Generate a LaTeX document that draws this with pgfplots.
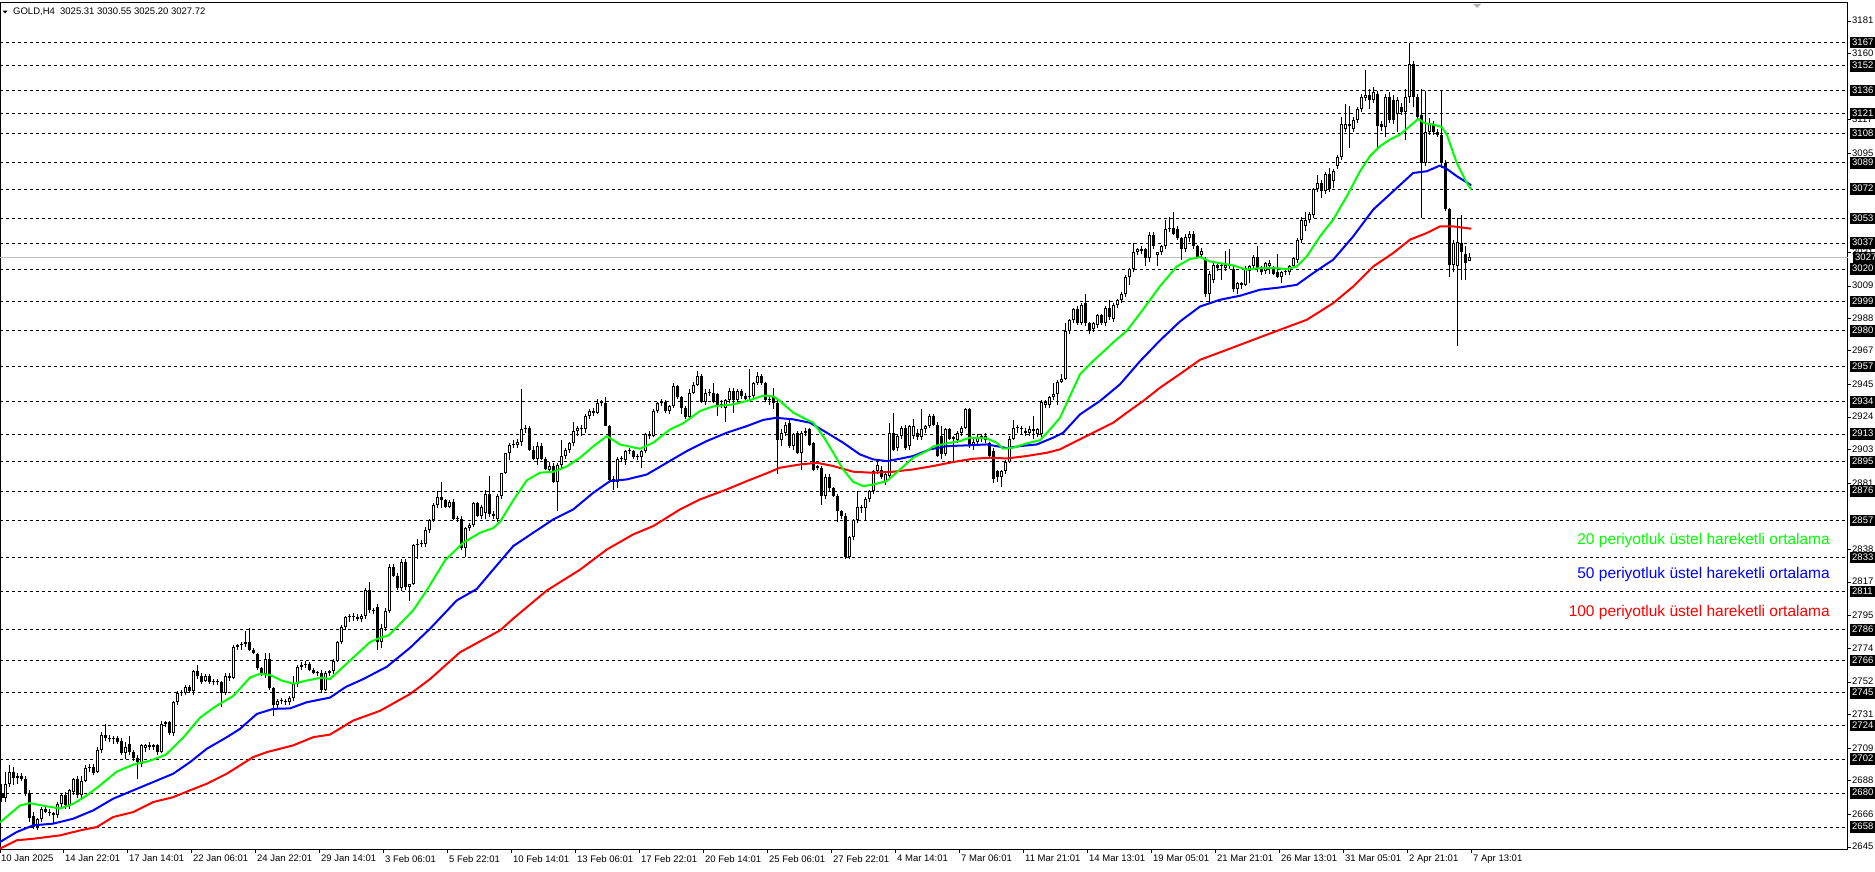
\documentclass[border=0pt]{standalone}
\usepackage{pgfplots}
\pgfplotsset{compat=1.18}
\usepackage{pgfplotstable}
\usepackage{fontspec}
\setmainfont{Liberation Sans}
\definecolor{emagreen}{RGB}{0,255,0}
\definecolor{emablue}{RGB}{0,0,255}
\definecolor{emared}{RGB}{255,0,0}
\definecolor{pricegray}{RGB}{192,192,192}

\pgfplotstableread{
i o h l c
0 2680 2686 2674 2677
1 2677 2694 2674 2686
2 2686 2698 2684 2694
3 2694 2697 2685 2690
4 2690 2693 2686 2691
5 2691 2693 2688 2689
6 2689 2691 2678 2680
7 2680 2682 2661 2664
8 2665 2668 2657 2658
9 2658 2664 2656 2663
10 2663 2671 2661 2670
11 2670 2672 2667 2668
12 2668 2670 2665 2667
13 2667 2668 2660 2666
14 2666 2674 2664 2673
15 2673 2680 2670 2679
16 2679 2681 2670 2672
17 2672 2683 2670 2682
18 2681 2690 2679 2689
19 2689 2691 2677 2679
20 2679 2691 2677 2688
21 2688 2698 2687 2696
22 2696 2699 2694 2697
23 2697 2699 2692 2693
24 2694 2710 2693 2708
25 2708 2720 2706 2718
26 2718 2725 2714 2716
27 2716 2718 2713 2715
28 2715 2717 2712 2716
29 2716 2717 2712 2713
30 2714 2716 2705 2706
31 2706 2713 2702 2710
32 2712 2717 2705 2707
33 2707 2708 2701 2703
34 2703 2705 2689 2700
35 2699 2712 2697 2711
36 2709 2712 2707 2711
37 2711 2713 2708 2710
38 2710 2712 2708 2711
39 2711 2712 2705 2707
40 2707 2727 2706 2725
41 2725 2727 2723 2726
42 2726 2727 2718 2719
43 2719 2740 2717 2739
44 2739 2746 2737 2745
45 2745 2747 2743 2745.5
46 2745 2750 2744 2749
47 2749 2750 2745 2746
48 2746 2760 2744 2759
49 2759 2763 2754 2756
50 2756 2758 2751 2752
51 2753 2757 2752 2756
52 2756 2757 2751 2752
53 2752 2754 2750 2753
54 2753 2754 2750 2752
55 2752 2753 2736 2745
56 2745 2758 2744 2756
57 2756 2758 2753 2755
58 2755 2776 2754 2775
59 2775 2777 2773 2776
60 2776 2778 2773 2777
61 2777 2785 2775 2778
62 2778 2787 2772 2773
63 2773 2774 2770 2771
64 2770 2771 2760 2761
65 2761 2762 2756 2757
66 2757 2771 2755 2767
67 2767 2771 2747 2748
68 2748 2749 2730 2737
69 2737 2741 2735 2740
70 2740 2742 2738 2740.5
71 2740 2741 2737 2739
72 2739 2743 2737 2742
73 2742 2756 2740 2751
74 2751 2763 2749 2762
75 2762 2765 2760 2763
76 2763 2766 2761 2764
77 2764 2765 2759 2760
78 2760 2761 2757 2758
79 2758 2759 2756 2758.5
80 2758 2760 2745 2747
81 2747 2759 2746 2758
82 2758 2760 2756 2759
83 2759 2767 2757 2766
84 2766 2779 2765 2778
85 2778 2789 2777 2788
86 2788 2795 2786 2794
87 2794 2796 2791 2795
88 2795 2797 2792 2794
89 2794 2796 2792 2793
90 2793 2796 2791 2795
91 2795 2813 2793 2812
92 2812 2817 2797 2799
93 2799 2800 2796 2798
94 2801 2803 2773 2778
95 2778 2790 2774 2787
96 2787 2800 2785 2798
97 2798 2829 2797 2827
98 2827 2829 2820 2821
99 2821 2823 2812 2813
100 2813 2832 2811 2830
101 2830 2832 2812 2814
102 2814 2816 2805 2816
103 2816 2842 2815 2841
104 2841 2845 2832 2842
105 2842 2844 2840 2842.5
106 2842 2853 2840 2851
107 2851 2858 2849 2857
108 2857 2868 2856 2867
109 2867 2876 2865 2872
110 2872 2882 2865 2870
111 2870 2871 2865 2866
112 2866 2870 2865 2869
113 2869 2871 2857 2858
114 2858 2860 2856 2858.5
115 2858 2860 2838 2839
116 2839 2853 2833 2852
117 2852 2855 2850 2854
118 2854 2869 2853 2868
119 2868 2869 2859 2860
120 2860 2867 2858 2866
121 2862 2877 2858 2874
122 2874 2886 2859 2861
123 2861 2863 2858 2860
124 2858 2874 2856 2873
125 2873 2888 2871 2888
126 2888 2901 2887 2901
127 2901 2907 2896 2906
128 2906 2909 2904 2906.5
129 2906 2910 2904 2908
130 2908 2942 2905 2916
131 2916 2919 2914 2917
132 2917 2918 2902 2903
133 2903 2905 2896 2897
134 2897 2908 2893 2905
135 2905 2907 2896 2897
136 2897 2898 2890 2890.5
137 2890 2895 2888 2892
138 2892 2894 2881 2882
139 2882 2894 2863 2893
140 2893 2909 2891 2899
141 2899 2904 2897 2903
142 2903 2908 2901 2907
143 2907 2921 2905 2915
144 2915 2918 2912 2917
145 2917 2919 2912 2916
146 2916 2926 2914 2925
147 2925 2929 2923 2928
148 2928 2930 2925 2927
149 2927 2936 2926 2933
150 2933 2935 2931 2933.5
151 2933 2937 2918 2918.5
152 2918 2919 2882 2883
153 2884 2886 2877 2882
154 2882 2898 2878 2897
155 2897 2899 2895 2897.5
156 2896 2903 2893 2902
157 2902 2904 2900 2902.5
158 2902 2903 2897 2898
159 2898 2900 2896 2898.5
160 2898 2903 2891 2902
161 2902 2914 2901 2913
162 2913 2915 2910 2912
163 2912 2929 2911 2928
164 2928 2934 2927 2933
165 2933 2936 2931 2934
166 2934 2935 2927 2928
167 2928 2932 2926 2931
168 2931 2946 2930 2944
169 2944 2945 2936 2937
170 2937 2938 2926 2930
171 2930 2931 2923 2924
172 2924 2942 2923 2940
173 2940 2947 2939 2945
174 2945 2954 2944 2951
175 2951 2952 2933 2934
176 2934 2942 2932 2940
177 2940 2942 2938 2940.5
178 2940 2946 2933 2934
179 2939 2940 2925 2932
180 2932 2935 2930 2932.5
181 2930 2936 2921 2935
182 2935 2943 2933 2941
183 2941 2943 2927 2935
184 2935 2942 2933 2941
185 2941 2942 2936 2938
186 2938 2940 2935 2936
187 2937 2955 2935 2938
188 2938 2947 2936 2946
189 2946 2953 2945 2951
190 2951 2952 2945 2946
191 2946 2947 2934 2935
192 2935 2937 2932 2936
193 2937 2943 2929 2933
194 2933 2935 2887 2909
195 2909 2916 2905 2914
196 2914 2921 2912 2919
197 2920 2922 2904 2905
198 2905 2914 2903 2913
199 2914 2915 2900 2901
200 2901 2915 2890 2914
201 2914 2917 2912 2915
202 2916 2917 2905 2906
203 2907 2908 2889 2890
204 2892 2893 2890 2891
205 2891 2892 2867 2873
206 2873 2887 2871 2885
207 2885 2887 2876 2878
208 2878 2879 2872 2873
209 2873 2874 2856 2863
210 2863 2864 2858 2860
211 2860 2862 2832 2833
212 2833 2847 2832 2846
213 2846 2858 2844 2857
214 2857 2876 2855 2866
215 2866 2867 2862 2865
216 2865 2872 2857 2871
217 2871 2877 2869 2876
218 2876 2890 2874 2889
219 2889 2895 2887 2893
220 2890 2892 2884 2885
221 2882 2888 2880 2887
222 2886 2920 2884 2914
223 2914 2927 2902 2903
224 2904 2913 2902 2912
225 2912 2918 2910 2917
226 2917 2919 2903 2904
227 2905 2919 2903 2918
228 2912 2923 2910 2918
229 2914 2916 2909 2911
230 2911 2929 2909 2916
231 2916 2919 2914 2918
232 2918 2926 2917 2925
233 2925 2926 2918 2919
234 2919 2921 2898 2899
235 2912 2918 2897 2900
236 2900 2917 2899 2916
237 2916 2917 2909 2910
238 2910 2912 2895 2911
239 2909 2915 2907 2914
240 2914 2918 2912 2917
241 2917 2930 2916 2929
242 2929 2930 2904 2905
243 2905 2911 2903 2908
244 2908 2913 2906 2911
245 2910 2913 2908 2912
246 2909 2914 2907 2912
247 2907 2908 2898 2899
248 2902 2904 2881 2884
249 2889 2890 2882 2885
250 2885 2890 2879 2889
251 2889 2896 2887 2895
252 2895 2912 2894 2910
253 2910 2922 2909 2917
254 2917 2919 2914 2917.5
255 2917 2918 2913 2916
256 2914 2917 2912 2915
257 2914 2918 2912 2916
258 2916 2925 2910 2915
259 2913 2917 2911 2916
260 2913 2935 2911 2934
261 2932 2935 2930 2934
262 2932 2938 2930 2937
263 2937 2946 2935 2939
264 2939 2948 2932 2947
265 2947 2952 2946 2949
266 2949 2985 2948 2980
267 2980 2988 2978 2987
268 2987 2995 2985 2994
269 2994 2996 2984 2985
270 2985 2998 2984 2997
271 2998 3004 2983 2985
272 2985 2986 2978 2980
273 2981 2986 2979 2985
274 2984 2991 2982 2990
275 2990 2991 2984 2985
276 2985 2996 2983 2995
277 2995 3000 2987 2989
278 2988 2998 2986 2997
279 2997 3001 2995 3000
280 3000 3005 2998 3004
281 3004 3016 3002 3015
282 3015 3021 3010 3020
283 3020 3037 3018 3031
284 3031 3034 3029 3033
285 3033 3035 3030 3032
286 3033 3034 3022 3027
287 3027 3044 3025 3042
288 3042 3044 3033 3035
289 3029 3031 3022 3031
290 3031 3036 3029 3035
291 3035 3052 3033 3046
292 3046 3054 3044 3047
293 3047 3057 3042 3043
294 3046 3048 3039 3040
295 3040 3041 3026 3033
296 3033 3043 3031 3041
297 3040 3045 3038 3043
298 3043 3045 3033 3035
299 3035 3036 3027 3028
300 3029 3034 3027 3032
301 3026 3028 3002 3004
302 3004 3019 2998 3017
303 3013 3025 3011 3023
304 3023 3025 3019 3021
305 3022 3024 3013 3023
306 3021 3032 3019 3023
307 3022 3033 3020 3022.5
308 3020 3022 3005 3007
309 3007 3012 3004 3011
310 3011 3012 3007 3010
311 3010 3022 3009 3021
312 3019 3023 3011 3022
313 3022 3029 3020 3028
314 3028 3035 3018 3020
315 3020 3022 3016 3018
316 3019 3025 3017 3024
317 3022 3026 3017 3024
318 3021 3022 3016 3017
319 3018 3030 3014 3015
320 3015 3019 3011 3018
321 3018 3020 3016 3018.5
322 3018 3023 3016 3022
323 3022 3028 3021 3027
324 3026 3040 3024 3039
325 3039 3054 3037 3052
326 3048 3057 3045 3052
327 3052 3057 3050 3056
328 3055 3073 3053 3072
329 3072 3081 3070 3076
330 3076 3078 3066 3071
331 3071 3083 3069 3082
332 3082 3086 3070 3072
333 3077 3085 3073 3084
334 3087 3094 3085 3093
335 3093 3119 3091 3114
336 3111 3127 3109 3114
337 3114 3126 3099 3113
338 3111 3119 3109 3117
339 3117 3125 3115 3124
340 3124 3134 3122 3132
341 3131 3149 3129 3133
342 3133 3137 3124 3130
343 3130 3138 3128 3135
344 3134 3136 3099 3113
345 3114 3116 3110 3112
346 3112 3134 3106 3132
347 3132 3135 3115 3117
348 3130 3133 3114 3117
349 3121 3132 3109 3130
350 3125 3128 3120 3122
351 3122 3137 3104 3132
352 3132 3167 3128 3153
353 3153 3155 3125 3132
354 3132 3134 3117 3119
355 3120 3137 3053 3089
356 3089 3136 3087 3109
357 3109 3118 3107 3114
358 3114 3116 3107 3109
359 3109 3111 3106 3107
360 3107 3136 3086 3089
361 3089 3091 3058 3059
362 3059 3060 3015 3023
363 3023 3039 3018 3037
364 3022 3053 2970 3038
365 3037 3055 3013 3031
366 3030 3035 3013 3024
367 3025.31 3030.55 3025.20 3027.72
}\candles

\begin{document}
\begin{tikzpicture}[x=1pt,y=1pt]
\begin{axis}[
  at={(0pt,22pt)}, anchor=south west,
  width=1848pt, height=847pt, scale only axis,
  xmin=-0.5, xmax=461.5, ymin=2643.1, ymax=3192.8,
  clip=false,
  axis line style={black, line width=1pt},
  tick style={black, line width=1pt},
  tick align=outside, major tick length=3pt,
  xtick pos=bottom, xticklabel pos=bottom,
  ytick pos=right, yticklabel pos=right,
  xtick={-0.5,15.5,...,367.5},
  xticklabels={10 Jan 2025,14 Jan 22:01,17 Jan 14:01,22 Jan 06:01,24 Jan 22:01,29 Jan 14:01,3 Feb 06:01,5 Feb 22:01,10 Feb 14:01,13 Feb 06:01,17 Feb 22:01,20 Feb 14:01,25 Feb 06:01,27 Feb 22:01,4 Mar 14:01,7 Mar 06:01,11 Mar 21:01,14 Mar 13:01,19 Mar 05:01,21 Mar 21:01,26 Mar 13:01,31 Mar 05:01,2 Apr 21:01,7 Apr 13:01},
  xticklabel style={font=\fontsize{9.5}{11}\selectfont, anchor=north west, inner xsep=1pt, inner ysep=1pt, yshift=-1pt},
  ytick={2645,2666,2688,2709,2731,2752,2774,2795,2817,2838,2881,2903,2924,2945,2967,2988,3009,3031,3095,3117,3160,3181},
  yticklabels={2645,2666,2688,2709,2731,2752,2774,2795,2817,2838,2881,2903,2924,2945,2967,2988,3009,3031,3095,3117,3160,3181},
  yticklabel style={font=\fontsize{9.5}{11}\selectfont, anchor=west, inner xsep=1pt, inner ysep=1pt, text height=7pt, text depth=1.5pt},
  extra y ticks={2658,2680,2702,2724,2745,2766,2786,2811,2833,2857,2876,2895,2913,2934,2957,2980,2999,3020,3037,3053,3072,3089,3108,3121,3136,3152,3167},
  extra y tick labels={2658,2680,2702,2724,2745,2766,2786,2811,2833,2857,2876,2895,2913,2934,2957,2980,2999,3020,3037,3053,3072,3089,3108,3121,3136,3152,3167},
  extra y tick style={grid=major, major grid style={black, line width=1pt, dash pattern=on 3pt off 3pt}, major tick length=0pt,
    yticklabel style={fill=black, text=white, inner xsep=2pt, inner ysep=1.5pt, xshift=2pt}},
]
% current price line
\addplot[pricegray, line width=1pt, mark=none, forget plot] coordinates {(-0.5,3027.72) (461.5,3027.72)};
% wicks
\addplot[draw=none, mark=none, forget plot, error bars/.cd, y dir=plus, y explicit, error mark=none,
  error bar style={draw=black, line width=1pt, solid}]
  table[x=i, y=l, y error expr=\thisrow{h}-\thisrow{l}] {\candles};
% bodies
\addplot[draw=none, mark=none, forget plot, error bars/.cd, y dir=plus, y explicit, error mark=none,
  error bar style={draw=black, line width=3pt, solid}]
  table[x=i, y expr={min(\thisrow{o},\thisrow{c})}, y error expr={max(abs(\thisrow{c}-\thisrow{o}),0.65)}] {\candles};
% hollow interiors of rising candles
\addplot[draw=none, mark=none, forget plot, error bars/.cd, y dir=plus, y explicit, error mark=none,
  error bar style={draw=white, line width=1pt, solid}]
  table[x=i, y expr={\thisrow{o}+0.65}, y error expr={max(\thisrow{c}-\thisrow{o}-1.3,0)}] {\candles};
% EMA 100
\addplot[emared, line width=2pt, mark=none, line join=round] coordinates {
(-0.5,2644) (3.7,2649.4) (7.8,2650.4) (14.5,2652.6) (19.5,2655.8) (23.7,2658) (27.8,2664.5) (32.8,2667.7) (37.8,2674.2) (42.8,2677.4) (47,2681.8) (51.2,2686.1) (56.2,2692.6) (62.8,2703.4) (66.2,2706.6) (72.8,2711) (77.8,2716.3) (82,2718) (87.8,2727.1) (94.5,2733.4) (102,2744.3) (107,2754) (114.5,2771.4) (124.5,2785.6) (128,2793.7) (136.2,2811.5) (144.5,2825) (151.2,2838.1) (157.8,2847.9) (162.8,2853.3) (169.5,2864.1) (174.5,2870.6) (181.2,2877.1) (186.2,2882.5) (191.2,2887.6) (194.5,2891.2) (199.5,2893.3) (203.7,2894.4) (207.8,2892.3) (212.8,2888.6) (217.8,2887.9) (222.8,2888.6) (227.8,2890.1) (232.8,2892.3) (237.8,2894.9) (242.8,2897) (247,2897.7) (251.2,2897.2) (256.2,2898.8) (261.2,2900.9) (264.5,2903.1) (269.5,2909.6) (272.8,2913.9) (277.8,2920.4) (281.2,2926.9) (285.3,2934.5) (289.5,2943.1) (294.5,2952) (299.5,2961.2) (306.2,2967.7) (312.8,2974.2) (319.5,2980.7) (326.2,2987.2) (332.8,2998) (337.8,3008.8) (342.8,3021.8) (347.8,3030.5) (352,3039.2) (356.2,3043.5) (359.5,3047.8) (362.8,3047.8) (367.3,3046.3)};
% EMA 50
\addplot[emablue, line width=2pt, mark=none, line join=round] coordinates {
(-0.5,2648.3) (3.7,2654.8) (7.8,2659.1) (12.8,2660.2) (17.8,2663.4) (22.8,2668.8) (27.8,2676.4) (32.8,2681.8) (37.8,2687.2) (42.8,2692.6) (47,2700.1) (51.2,2708.8) (56.2,2716.3) (59.5,2721.7) (63.7,2731.4) (67.8,2734.7) (72,2735) (76.2,2739) (82,2742) (86,2749) (90.3,2754) (96.2,2762) (102,2774.3) (107,2786.7) (113.7,2805.1) (118.7,2812.5) (122.8,2825.1) (127.8,2840.3) (132.8,2849) (137.8,2857.6) (142.8,2864.1) (147.8,2874.9) (152,2882.5) (156.2,2883.6) (161.2,2886.8) (166.2,2894.4) (171.2,2902) (176.2,2908.5) (181.2,2913.9) (186.2,2918.2) (190.3,2922.2) (193.5,2923.6) (197.8,2922.6) (202,2920.4) (206.2,2913.9) (210.3,2907.4) (214.5,2899.8) (217.8,2896.6) (221.2,2895.5) (224.5,2897) (227.8,2898.8) (232,2903.1) (236.2,2905.2) (241.2,2905.7) (246.2,2906.3) (249.5,2904.8) (251.2,2903.9) (254.5,2905.2) (258.7,2906.3) (262.8,2910.7) (265.3,2913.9) (269.5,2925.8) (274.5,2934.5) (279.5,2945.3) (284.5,2960.3) (289.5,2973.8) (294.5,2986.1) (299.5,2995.8) (304.5,3000.2) (309.5,3002.8) (314.5,3006.7) (319.5,3008.2) (323.7,3009.9) (327.8,3017.5) (332.8,3026.2) (337.8,3041.3) (342.8,3058.7) (347.8,3070.6) (352.8,3082.5) (356.2,3083.6) (359.5,3087.3) (361.2,3085.1) (363.7,3080.4) (367.3,3074.5)};
% EMA 20
\addplot[emagreen, line width=2pt, mark=none, line join=round] coordinates {
(-0.5,2661) (4.5,2672) (7,2673.5) (10,2672) (14.5,2670) (17.8,2673) (21.2,2678.5) (24.5,2685) (28.7,2694) (32.8,2698.5) (37,2701) (41,2705) (45.3,2716) (49.5,2729) (53.7,2736.8) (57.8,2743) (62,2755) (64.5,2757.5) (67,2756.7) (70,2753) (73,2751) (76,2753) (80,2755) (82,2754) (87,2766) (92,2778) (94.5,2780.8) (96.6,2782.3) (98.7,2787.7) (102.8,2798.6) (106.2,2811.7) (110.8,2831.2) (115.3,2842.5) (119.5,2849) (122.8,2852) (124.5,2856) (127.8,2870) (131.2,2883) (134.5,2888) (137.8,2888.5) (141.2,2892) (144.5,2897.7) (147.8,2905) (151.2,2911.7) (154.5,2906.3) (159.5,2903.5) (162.8,2907.4) (167,2916) (170.3,2920) (174.5,2928) (177.8,2931) (182.8,2932.3) (187,2935) (190.3,2938) (192.8,2937.5) (194.5,2934.5) (197.8,2927) (200.3,2923.6) (202.8,2920.4) (205.3,2911.7) (207.8,2901) (210.3,2890) (212.8,2882) (215.3,2879.3) (217.8,2880.3) (221.2,2882.5) (224.5,2890) (227.8,2897.7) (231.2,2902) (232.8,2905) (236.2,2907) (239.5,2908.5) (242,2910.7) (246.2,2910.2) (248.7,2907.4) (250.3,2903.5) (252.8,2904.2) (256.2,2907) (259.5,2909) (262,2916) (264.5,2923.6) (267,2937.7) (269.5,2951.8) (272.8,2960.5) (276.2,2968.5) (278,2973) (281.2,2980) (285.3,2994) (289.5,3009) (293.7,3021.8) (297,3026.6) (299.5,3027.9) (302,3025.1) (305.3,3023.6) (307.8,3022.5) (311.2,3019.7) (314.5,3020.8) (317.8,3020.8) (321.2,3020.1) (323.7,3021.8) (326.2,3028.3) (329.5,3041.3) (332.8,3052.2) (336.2,3067.3) (339.5,3083.6) (342,3093.4) (344.5,3099.9) (347,3104.2) (349.5,3107.4) (352,3112.9) (354.1,3117.6) (355.8,3114.6) (357.8,3113.9) (359.9,3112.4) (361.2,3107.4) (363.7,3089) (366.2,3076) (367.3,3071.7)};
\coordinate (cur) at (axis cs:461.5,3027.72);
\end{axis}
% current price label
\node[fill=black, text=white, anchor=west, font=\fontsize{9.5}{11}\selectfont, inner xsep=2pt, inner ysep=1.5pt, text height=7pt, text depth=1.5pt, xshift=5pt] at (cur) {3027};
% header
\fill[black] (2.7,861.3) -- (7.5,861.3) -- (5.1,858.5) -- cycle;
\node[anchor=west, font=\fontsize{9.5}{11}\selectfont, inner sep=0pt] at (13,860.3) {GOLD,H4\ \ 3025.31 3030.55 3025.20 3027.72};
\fill[gray!60] (1473,868) -- (1481,868) -- (1477,864) -- cycle;
% EMA captions
\node[anchor=east, text=emagreen, font=\fontsize{15.5}{18}\selectfont, inner sep=0pt] at (1830,331.5) {20 periyotluk üstel hareketli ortalama};
\node[anchor=east, text=emablue, font=\fontsize{15.5}{18}\selectfont, inner sep=0pt] at (1830,297) {50 periyotluk üstel hareketli ortalama};
\node[anchor=east, text=emared, font=\fontsize{15.5}{18}\selectfont, inner sep=0pt] at (1830,259.3) {100 periyotluk üstel hareketli ortalama};
\pgfresetboundingbox
\useasboundingbox (0,0) rectangle (1875,872);
\end{tikzpicture}
\end{document}
